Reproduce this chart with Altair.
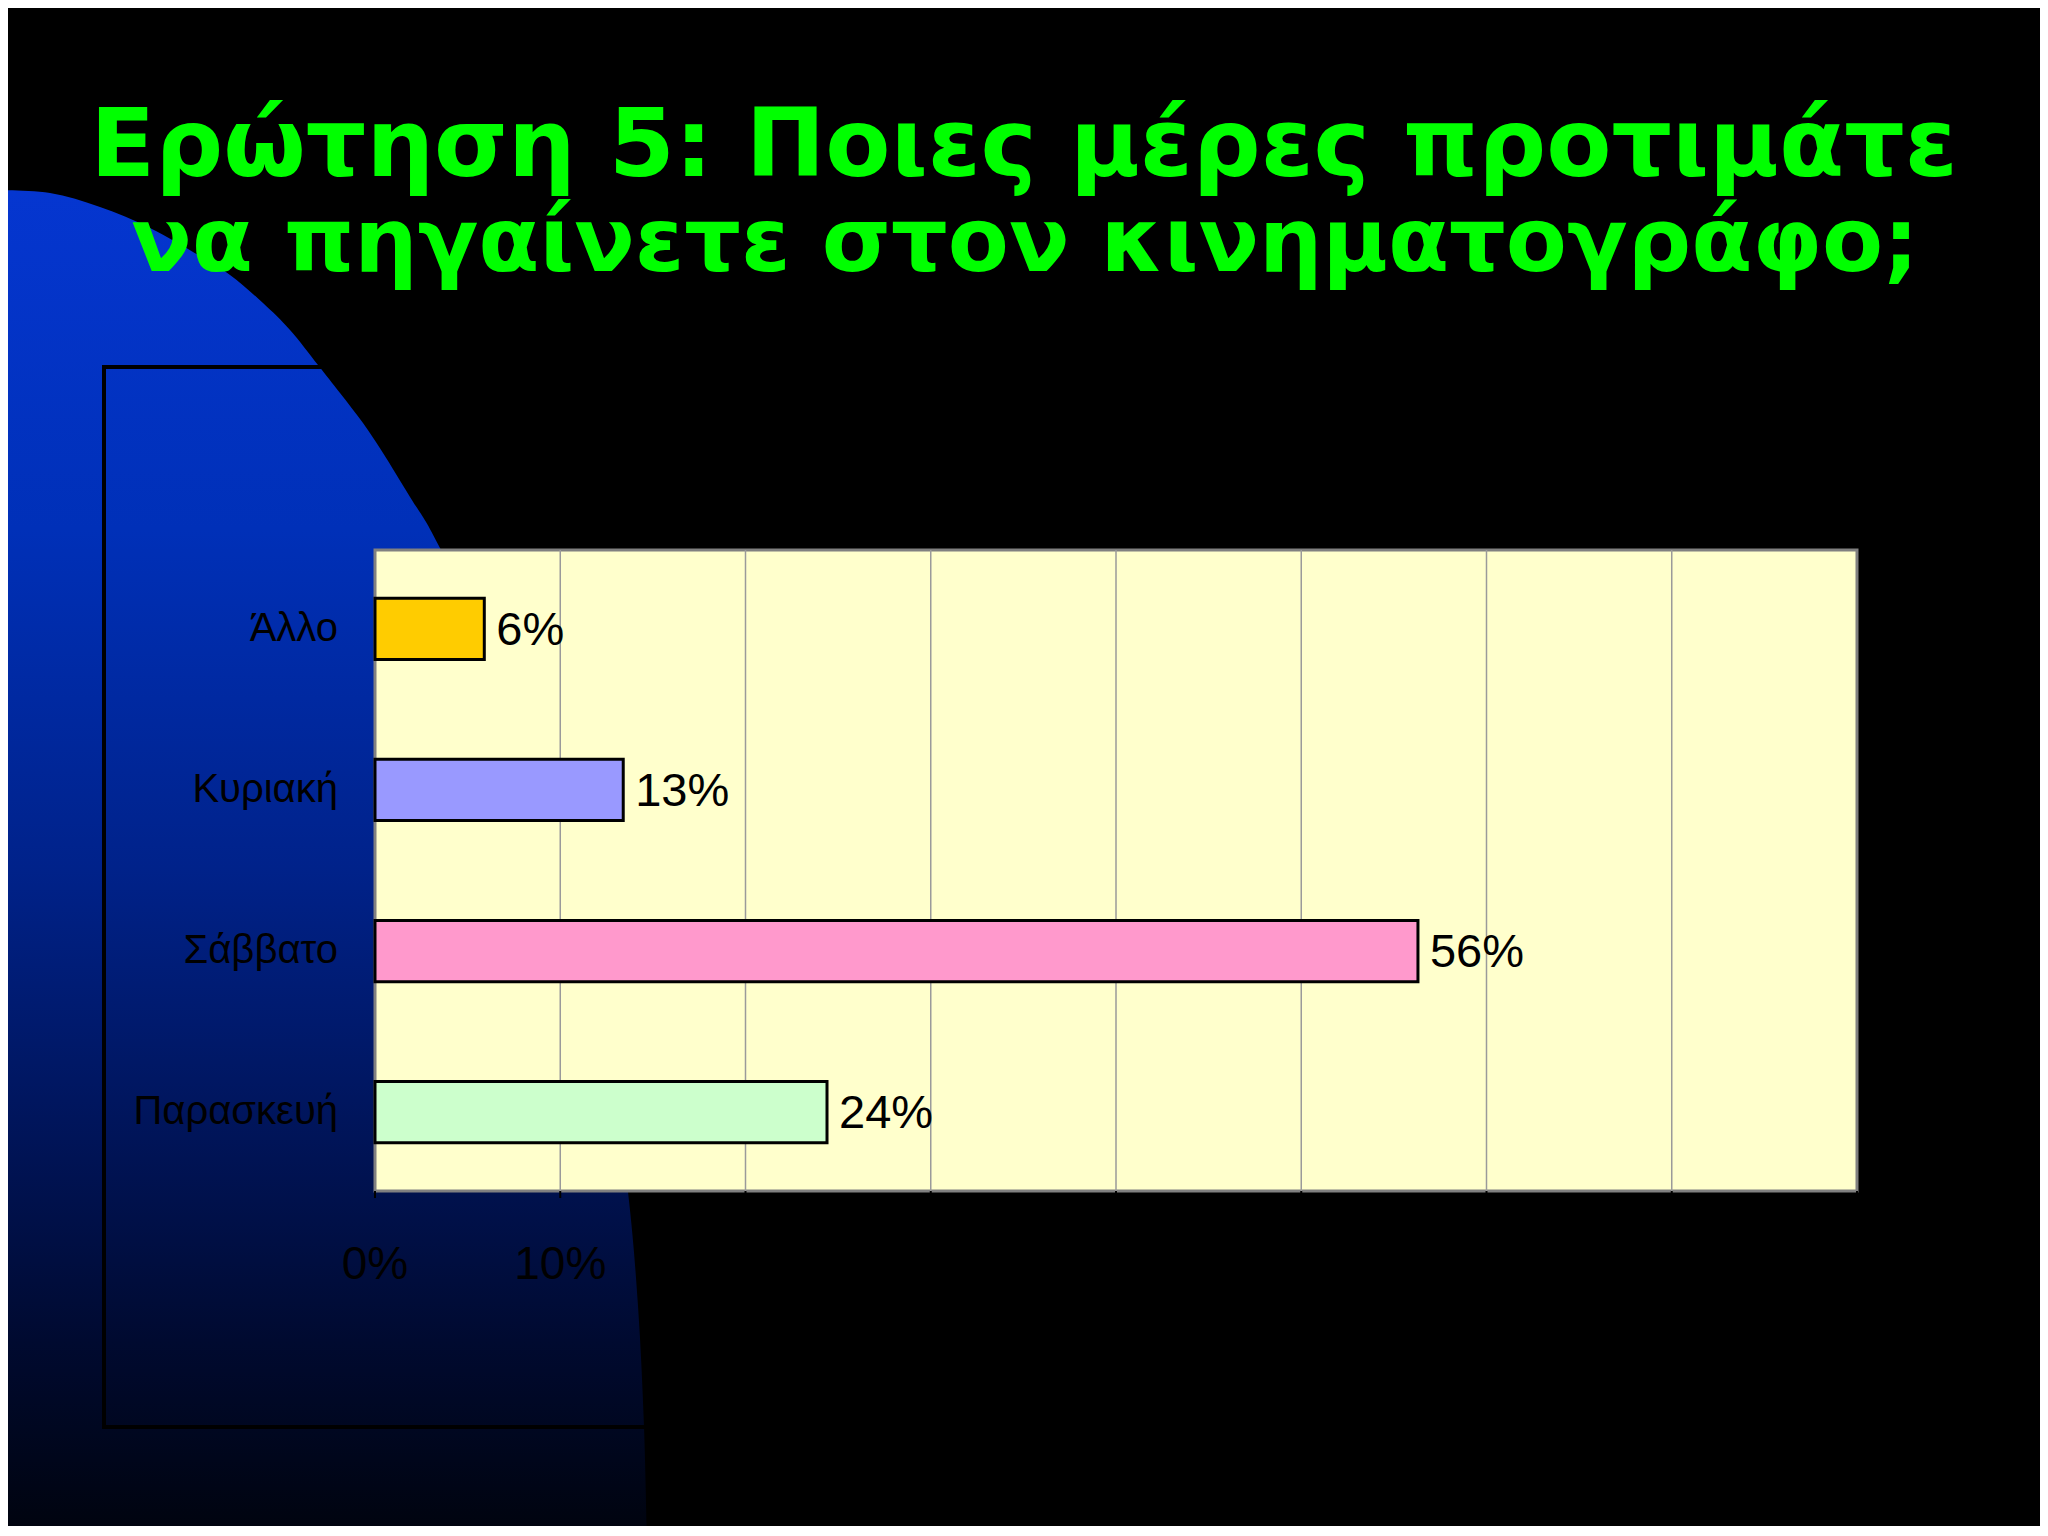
import altair as alt
import pandas as pd

# ---------------- data ----------------
categories = ["Άλλο", "Κυριακή", "Σάββατο", "Παρασκευή"]
values = [0.059, 0.134, 0.563, 0.244]
bar_colors = ["#FFCC00", "#9999FF", "#FF99CC", "#CCFFCC"]
x_ticks = [0, 0.1, 0.2, 0.3, 0.4, 0.5, 0.6, 0.7, 0.8]
title_line1 = "Ερώτηση 5: Ποιες μέρες προτιμάτε"
title_line2 = "να πηγαίνετε στον κινηματογράφο;"

# ---------------- layout ----------------
W, H = 1482, 641          # plot area
OX, OY = 375, 550         # page position of plot origin
FONT = "Liberation Sans"

# outline of the decorative blue background shape (page pixels)
edge = [(0, 190), (50, 193), (100, 207), (150, 228), (200, 256), (230, 275),
        (263, 303), (290, 330), (318, 365), (340, 393), (363, 423), (383, 453),
        (410, 497), (440, 548), (517, 709), (571, 870), (607, 1031), (628, 1192),
        (638, 1306), (644, 1427), (647, 1545)]


def rel(p):
    return ((p[0] - OX) / 1000.0, (p[1] - OY) / 1000.0)


def fmt(p):
    return f"{p[0]:.4f},{p[1]:.4f}"


pts = [rel(p) for p in edge]
path = "M" + fmt(rel((-20, 190))) + " L" + fmt(pts[0])
ext = [pts[0]] + pts + [pts[-1]]
for i in range(1, len(ext) - 2):
    p0, p1, p2, p3 = ext[i - 1], ext[i], ext[i + 1], ext[i + 2]
    c1 = (p1[0] + (p2[0] - p0[0]) / 6, p1[1] + (p2[1] - p0[1]) / 6)
    c2 = (p2[0] - (p3[0] - p1[0]) / 6, p2[1] - (p3[1] - p1[1]) / 6)
    path += " C" + fmt(c1) + " " + fmt(c2) + " " + fmt(p2)
path += " L" + fmt(rel((-20, 1545))) + " Z"

blue_grad = alt.LinearGradient(
    gradient="linear",
    stops=[
        alt.GradientStop(color="#0536D0", offset=0),
        alt.GradientStop(color="#0030B8", offset=0.25),
        alt.GradientStop(color="#00228A", offset=0.5),
        alt.GradientStop(color="#001458", offset=0.7),
        alt.GradientStop(color="#000A30", offset=0.85),
        alt.GradientStop(color="#00030C", offset=1),
    ],
    x1=0, x2=0, y1=0, y2=1,
)

one = pd.DataFrame({"k": [0]})
df = pd.DataFrame({"category": categories, "value": values})
tick_df = pd.DataFrame({"t": x_ticks})
grid_df = pd.DataFrame({"t": x_ticks[1:-1]})

xscale = alt.Scale(domain=[0, 0.8], nice=False, zero=True)
yscale = alt.Scale(domain=categories, paddingInner=0.62, paddingOuter=0.3)

blue = alt.Chart(one).mark_point(
    shape=path, size=4000000, filled=True, fill=blue_grad, opacity=1, strokeWidth=0
).encode(x=alt.value(0), y=alt.value(0))

frame = alt.Chart(one).mark_rect(
    fillOpacity=0, stroke="black", strokeWidth=4
).encode(x=alt.value(104 - OX), x2=alt.value(1960 - OX),
         y=alt.value(367 - OY), y2=alt.value(1427 - OY))

plot_bg = alt.Chart(one).mark_rect(
    fill="#FFFFCC", stroke="#808080", strokeWidth=3
).encode(x=alt.value(0), x2=alt.value(W), y=alt.value(0), y2=alt.value(H))

grid = alt.Chart(grid_df).mark_rule(color="#9A9A9A", strokeWidth=1.5).encode(
    x=alt.X("t:Q", scale=xscale, axis=None),
    y=alt.value(0), y2=alt.value(H),
)

bars = alt.Chart(df).mark_bar(stroke="black", strokeWidth=3, opacity=1).encode(
    x=alt.X("value:Q", scale=xscale, axis=None),
    y=alt.Y("category:N", sort=categories, scale=yscale, axis=None),
    color=alt.Color("category:N", scale=alt.Scale(domain=categories, range=bar_colors),
                    legend=None),
)

value_labels = alt.Chart(df).mark_text(
    align="left", baseline="middle", dx=12, dy=2, fontSize=47,
    font=FONT, color="black"
).encode(
    x=alt.X("value:Q", scale=xscale, axis=None),
    y=alt.Y("category:N", sort=categories, scale=yscale, axis=None),
    text=alt.Text("value:Q", format=".0%"),
)

# category (y-axis) labels
cat_labels = alt.Chart(df).mark_text(
    align="right", baseline="middle", fontSize=40,
    font=FONT, color="black"
).encode(
    x=alt.value(338 - OX),
    y=alt.Y("category:N", sort=categories, scale=yscale, axis=None),
    text="category:N",
)

# x-axis ticks and tick labels
x_tick_marks = alt.Chart(tick_df).mark_rule(color="black", strokeWidth=2).encode(
    x=alt.X("t:Q", scale=xscale, axis=None),
    y=alt.value(H), y2=alt.value(H + 7),
)

x_tick_labels = alt.Chart(tick_df).mark_text(
    align="center", baseline="alphabetic", fontSize=46,
    font=FONT, color="black"
).encode(
    x=alt.X("t:Q", scale=xscale, axis=None),
    y=alt.value(1279 - OY),
    text=alt.Text("t:Q", format=".0%"),
)

title1 = alt.Chart(one).mark_text(
    text=title_line1, font="DejaVu Sans", fontWeight="bold", fontSize=95,
    color="#00FF00", align="center", baseline="alphabetic"
).encode(x=alt.value(1024 - OX), y=alt.value(176 - OY))

title2 = alt.Chart(one).mark_text(
    text=title_line2, font="DejaVu Sans", fontWeight="bold", fontSize=89,
    color="#00FF00", align="center", baseline="alphabetic"
).encode(x=alt.value(1025 - OX), y=alt.value(271 - OY))

chart = alt.layer(
    blue, frame, plot_bg, grid, bars, value_labels, cat_labels,
    x_tick_marks, x_tick_labels, title1, title2
).properties(
    width=W, height=H,
    padding={"left": OX - 8, "top": OY - 8, "right": 2032 - (OX - 8) - W,
             "bottom": 1518 - (OY - 8) - H},
    autosize=alt.AutoSizeParams(type="none"),
    background="black",
).configure_view(strokeWidth=0)

chart.save("out.html", embed_options={"renderer": "svg", "actions": False})
